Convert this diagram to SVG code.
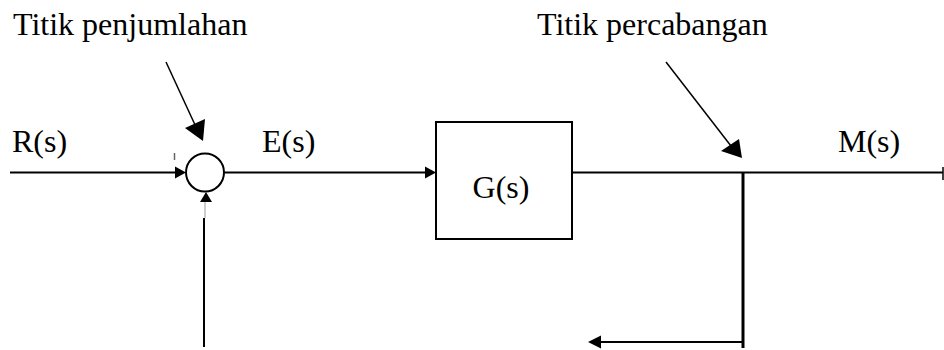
<svg xmlns="http://www.w3.org/2000/svg" width="944" height="350" viewBox="0 0 944 350">
  <style>
    .lbl { font-family: "Liberation Serif", "Times New Roman", serif; font-size: 32px; fill: #000; }
    .ln { stroke: #000; stroke-width: 2; fill: none; }
    .thin { stroke: #000; stroke-width: 1.5; fill: none; }
    .head { fill: #000; stroke: none; }
  </style>
  <rect width="944" height="350" fill="#fff"/>

  <!-- labels -->
  <text class="lbl" x="13" y="35">Titik penjumlahan</text>
  <text class="lbl" x="537" y="35">Titik percabangan</text>
  <text class="lbl" x="12" y="152">R(s)</text>
  <text class="lbl" x="262" y="152">E(s)</text>
  <text class="lbl" x="838" y="152">M(s)</text>

  <!-- summing junction -->
  <g id="sum">
    <circle cx="205" cy="172.5" r="19" fill="#fff" stroke="#000" stroke-width="2"/>
    <line x1="174.5" y1="153" x2="174.5" y2="160" stroke="#666" stroke-width="1.5"/>
  </g>

  <!-- plant block -->
  <g id="plant">
    <rect x="436" y="122" width="136" height="117" fill="#fff" stroke="#000" stroke-width="2"/>
    <text class="lbl" x="501" y="198" text-anchor="middle">G(s)</text>
  </g>

  <!-- branch point -->
  <g id="branch">
    <line x1="743" y1="172.5" x2="743" y2="348" stroke="#000" stroke-width="3"/>
  </g>

  <g id="connectors">
    <!-- R(s) into summing junction -->
    <line class="ln" x1="10" y1="172.5" x2="178" y2="172.5"/>
    <polygon class="head" points="186,172.5 175,166.5 175,178.5"/>
    <!-- E(s) into G(s) -->
    <line class="ln" x1="224" y1="172.5" x2="428" y2="172.5"/>
    <polygon class="head" points="436,172.5 425,166.5 425,178.5"/>
    <!-- G(s) output M(s) -->
    <line class="ln" x1="572" y1="172.5" x2="943" y2="172.5"/>
    <line x1="943" y1="167" x2="943" y2="180" stroke="#000" stroke-width="1.5"/>
    <!-- feedback into summing junction -->
    <line class="ln" x1="204" y1="218" x2="204" y2="347"/>
    <line x1="205" y1="200" x2="205" y2="218" stroke="#999" stroke-width="1"/>
    <polygon class="head" points="206,192 200,202 212,202"/>
    <!-- feedback leaving branch -->
    <line class="ln" x1="743" y1="342" x2="596" y2="342"/>
    <polygon class="head" points="588,342 601,335.5 601,348.5"/>
    <!-- pointer to summing junction -->
    <line class="thin" x1="166" y1="62" x2="196" y2="127"/>
    <polygon class="head" points="203,141 185,128 205,119"/>
    <!-- pointer to branch point -->
    <line class="thin" x1="666" y1="62" x2="731" y2="146"/>
    <polygon class="head" points="742,158 721,151 739,139"/>
  </g>
</svg>
